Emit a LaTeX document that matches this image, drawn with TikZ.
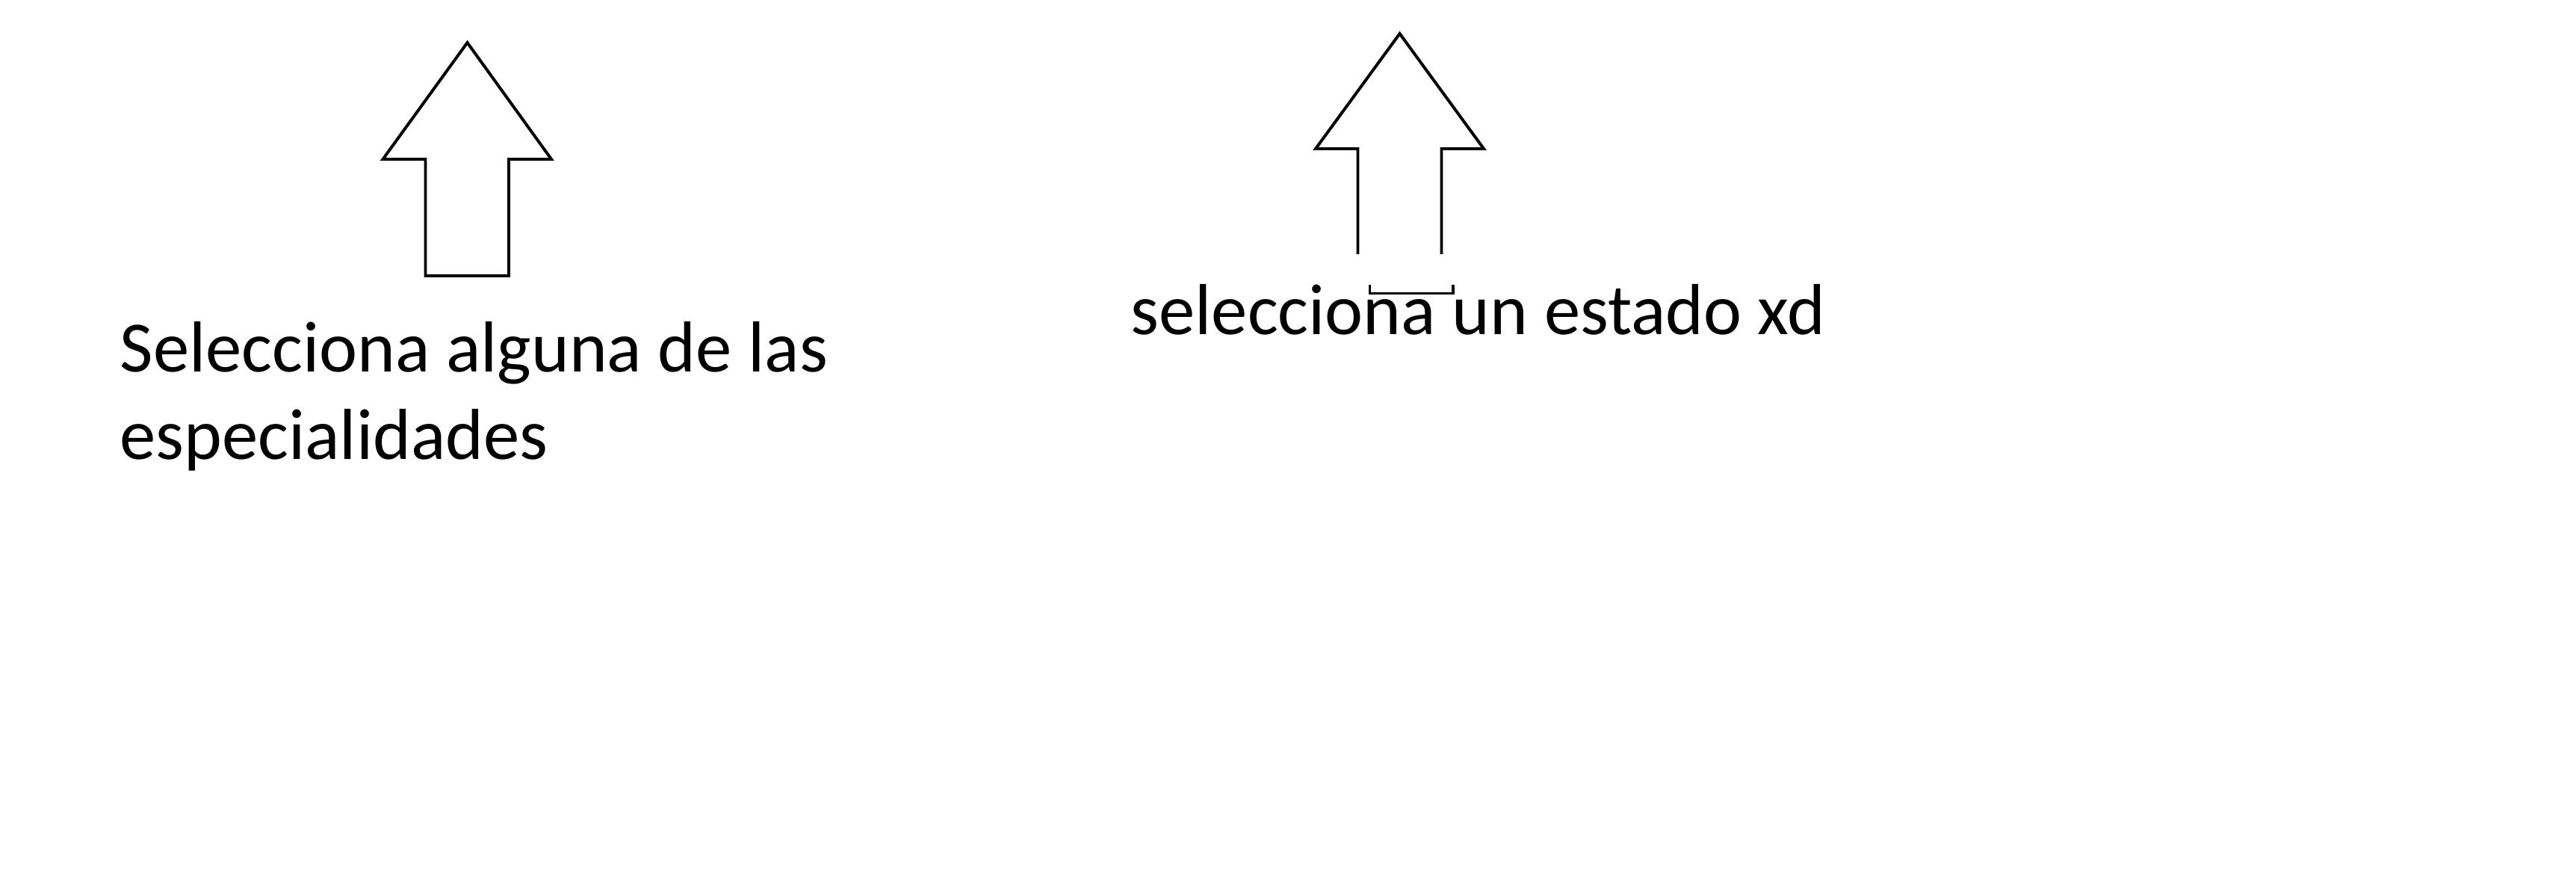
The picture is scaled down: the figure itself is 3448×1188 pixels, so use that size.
\documentclass[tikz,border=0pt]{standalone}
\usepackage{fontspec}
\setmainfont{Carlito}
\begin{document}
\begin{tikzpicture}[x=0.24pt,y=-0.24pt,
  shape line/.style={draw=black,line width=0.95pt,line join=miter},
  label text/.style={inner sep=0pt,anchor=base west,font=\fontsize{23.2}{28}\selectfont}]
\useasboundingbox (0,0) rectangle (3448,1188);
% left arrow (closed)
\draw[shape line] (625.5,57) -- (738,213) -- (681,213) -- (681,369) -- (569.5,369) -- (569.5,213) -- (512.5,213) -- cycle;
% right arrow (open bottom) and its displaced bottom edge
\draw[shape line] (1817.5,340) -- (1817.5,199) -- (1761,199) -- (1873.5,45) -- (1986,199) -- (1929.5,199) -- (1929.5,340);
\draw[shape line] (1833.5,381.5) -- (1833.5,392.5) -- (1945,392.5) -- (1945,381.5);
% texts
\node[label text] (t1a) at (160,497) {Selecciona alguna de las};
\node[label text] (t1b) at (160,614) {especialidades};
\node[label text] (t2) at (1513,448) {selecciona un estado xd};
\end{tikzpicture}
\end{document}
